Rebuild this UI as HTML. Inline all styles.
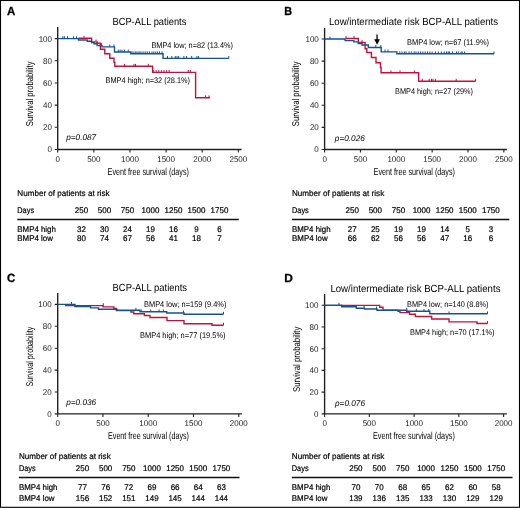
<!DOCTYPE html>
<html><head><meta charset="utf-8"><title>Figure</title>
<style>html,body{margin:0;padding:0;background:#fff;width:520px;height:508px;overflow:hidden}svg{will-change:transform}
svg text{font-family:"Liberation Sans", sans-serif;text-rendering:geometricPrecision}</style></head>
<body>
<svg width="520" height="508" viewBox="0 0 520 508" style="display:block">
<rect x="0" y="0" width="520" height="508" fill="#fff"/>
<g font-family='"Liberation Sans", sans-serif'>
<text x="6.90" y="15.00" font-size="11.80" textLength="8.30" lengthAdjust="spacingAndGlyphs" font-weight="bold" fill="#000" stroke="#000" stroke-width="0.3">A</text>
<text x="112.40" y="25.20" font-size="10.30" textLength="74.00" lengthAdjust="spacingAndGlyphs" fill="#000">BCP-ALL patients</text>
<path d="M57.70 27.00 V149.50 H241.60" fill="none" stroke="#222" stroke-width="1.4"/>
<text x="52.00" y="152.40" font-size="8.30" textLength="4.45" lengthAdjust="spacingAndGlyphs" text-anchor="end" fill="#222">0</text>
<text x="52.00" y="130.22" font-size="8.30" textLength="8.90" lengthAdjust="spacingAndGlyphs" text-anchor="end" fill="#222">20</text>
<text x="52.00" y="108.04" font-size="8.30" textLength="8.90" lengthAdjust="spacingAndGlyphs" text-anchor="end" fill="#222">40</text>
<text x="52.00" y="85.86" font-size="8.30" textLength="8.90" lengthAdjust="spacingAndGlyphs" text-anchor="end" fill="#222">60</text>
<text x="52.00" y="63.68" font-size="8.30" textLength="8.90" lengthAdjust="spacingAndGlyphs" text-anchor="end" fill="#222">80</text>
<text x="52.00" y="41.50" font-size="8.30" textLength="13.35" lengthAdjust="spacingAndGlyphs" text-anchor="end" fill="#222">100</text>
<text x="57.70" y="161.80" font-size="8.30" textLength="4.45" lengthAdjust="spacingAndGlyphs" text-anchor="middle" fill="#222">0</text>
<text x="93.83" y="161.80" font-size="8.30" textLength="13.35" lengthAdjust="spacingAndGlyphs" text-anchor="middle" fill="#222">500</text>
<text x="129.96" y="161.80" font-size="8.30" textLength="17.80" lengthAdjust="spacingAndGlyphs" text-anchor="middle" fill="#222">1000</text>
<text x="166.09" y="161.80" font-size="8.30" textLength="17.80" lengthAdjust="spacingAndGlyphs" text-anchor="middle" fill="#222">1500</text>
<text x="202.22" y="161.80" font-size="8.30" textLength="17.80" lengthAdjust="spacingAndGlyphs" text-anchor="middle" fill="#222">2000</text>
<text x="238.35" y="161.80" font-size="8.30" textLength="17.80" lengthAdjust="spacingAndGlyphs" text-anchor="middle" fill="#222">2500</text>
<path d="M54.70 149.50 H57.70 M54.70 127.32 H57.70 M54.70 105.14 H57.70 M54.70 82.96 H57.70 M54.70 60.78 H57.70 M54.70 38.60 H57.70 M57.70 149.50 V152.50 M93.83 149.50 V152.50 M129.96 149.50 V152.50 M166.09 149.50 V152.50 M202.22 149.50 V152.50 M238.35 149.50 V152.50" fill="none" stroke="#222" stroke-width="1.1"/>
<g transform="translate(32.60 93.85) rotate(-90)">
<text x="0.00" y="0.00" font-size="9.90" textLength="64.70" lengthAdjust="spacingAndGlyphs" text-anchor="middle" fill="#000">Survival probability</text>
</g>
<text x="107.60" y="175.00" font-size="9.90" textLength="81.40" lengthAdjust="spacingAndGlyphs" fill="#000">Event free survival (days)</text>
<text x="66.20" y="139.80" font-size="8.20" textLength="30.00" lengthAdjust="spacingAndGlyphs" font-style="italic" fill="#000">p=0.087</text>
<text x="151.40" y="47.80" font-size="8.20" textLength="81.60" lengthAdjust="spacingAndGlyphs" fill="#000">BMP4 low; n=82 (13.4%)</text>
<text x="105.60" y="83.00" font-size="8.20" textLength="84.40" lengthAdjust="spacingAndGlyphs" fill="#000">BMP4 high; n=32 (28.1%)</text>
<path d="M78.50 38.30 H78.50 V38.30 H91.60 V41.90 H97.20 V43.20 H100.40 V49.20 H104.80 V53.80 H109.80 V58.20 H114.00 V62.40 H114.80 V66.30 H152.60 V72.40 H195.60 V97.80 H210.00" fill="none" stroke="#c6103a" stroke-width="1.4" stroke-linejoin="miter" stroke-linecap="butt"/>
<path d="M73.50 38.60 v-2.4 M84.00 38.30 v-2.4 M96.00 41.90 v-2.4 M124.50 66.30 v-2.4 M134.00 66.30 v-2.4 M135.50 66.30 v-2.4 M148.30 66.30 v-2.4 M153.70 72.40 v-2.4 M156.20 72.40 v-2.4 M158.80 72.40 v-2.4 M161.40 72.40 v-2.4 M164.00 72.40 v-2.4 M166.60 72.40 v-2.4 M169.20 72.40 v-2.4 M188.30 72.40 v-2.4 M190.30 72.40 v-2.4 M205.60 97.80 v-2.4 M209.00 97.80 v-2.4" fill="none" stroke="#c6103a" stroke-width="1.0"/>
<path d="M57.70 38.60 H78.50 V40.00 H87.20 V41.30 H91.60 V42.60 H94.00 V43.80 H97.20 V45.60 H102.00 V46.90 H114.50 V52.00 H130.80 V53.80 H163.00 V58.40 H228.80" fill="none" stroke="#16528f" stroke-width="1.4" stroke-linejoin="miter" stroke-linecap="butt"/>
<path d="M62.90 38.60 v-2.4 M64.40 38.60 v-2.4 M67.50 38.60 v-2.4 M76.60 38.60 v-2.4 M101.60 45.60 v-2.4 M109.80 46.90 v-2.4 M114.00 46.90 v-2.4 M118.25 52.00 v-2.4 M120.10 52.00 v-2.4 M122.00 52.00 v-2.4 M124.50 52.00 v-2.4 M128.25 52.00 v-2.4 M132.00 53.80 v-2.4 M133.90 53.80 v-2.4 M135.75 53.80 v-2.4 M137.00 53.80 v-2.4 M138.90 53.80 v-2.4 M140.10 53.80 v-2.4 M142.00 53.80 v-2.4 M143.90 53.80 v-2.4 M145.75 53.80 v-2.4 M147.60 53.80 v-2.4 M149.50 53.80 v-2.4 M152.00 53.80 v-2.4 M153.90 53.80 v-2.4 M155.75 53.80 v-2.4 M157.60 53.80 v-2.4 M159.50 53.80 v-2.4 M162.00 53.80 v-2.4 M167.50 58.40 v-2.4 M171.80 58.40 v-2.4 M175.30 58.40 v-2.4 M177.00 58.40 v-2.4 M178.70 58.40 v-2.4 M183.90 58.40 v-2.4 M186.50 58.40 v-2.4 M191.70 58.40 v-2.4 M196.90 58.40 v-2.4 M198.60 58.40 v-2.4 M228.80 58.40 v-2.4" fill="none" stroke="#16528f" stroke-width="1.0"/>
<g stroke="#000" stroke-width="0.2">
<text x="17.30" y="195.70" font-size="8.20" textLength="92.20" lengthAdjust="spacingAndGlyphs" fill="#000">Number of patients at risk</text>
<text x="17.30" y="212.80" font-size="8.20" textLength="16.80" lengthAdjust="spacingAndGlyphs" fill="#000">Days</text>
<path d="M17.30 219.50 H238.80" stroke="#111" stroke-width="1.3"/>
<text x="17.30" y="231.70" font-size="8.20" textLength="38.60" lengthAdjust="spacingAndGlyphs" fill="#000">BMP4 high</text>
<text x="17.30" y="240.60" font-size="8.20" textLength="35.70" lengthAdjust="spacingAndGlyphs" fill="#000">BMP4 low</text>
<text x="81.50" y="212.80" font-size="8.20" textLength="13.35" lengthAdjust="spacingAndGlyphs" text-anchor="middle" fill="#000">250</text>
<text x="81.50" y="231.70" font-size="8.20" textLength="8.90" lengthAdjust="spacingAndGlyphs" text-anchor="middle" fill="#000">32</text>
<text x="81.50" y="240.60" font-size="8.20" textLength="8.90" lengthAdjust="spacingAndGlyphs" text-anchor="middle" fill="#000">80</text>
<text x="104.50" y="212.80" font-size="8.20" textLength="13.35" lengthAdjust="spacingAndGlyphs" text-anchor="middle" fill="#000">500</text>
<text x="104.50" y="231.70" font-size="8.20" textLength="8.90" lengthAdjust="spacingAndGlyphs" text-anchor="middle" fill="#000">30</text>
<text x="104.50" y="240.60" font-size="8.20" textLength="8.90" lengthAdjust="spacingAndGlyphs" text-anchor="middle" fill="#000">74</text>
<text x="127.50" y="212.80" font-size="8.20" textLength="13.35" lengthAdjust="spacingAndGlyphs" text-anchor="middle" fill="#000">750</text>
<text x="127.50" y="231.70" font-size="8.20" textLength="8.90" lengthAdjust="spacingAndGlyphs" text-anchor="middle" fill="#000">24</text>
<text x="127.50" y="240.60" font-size="8.20" textLength="8.90" lengthAdjust="spacingAndGlyphs" text-anchor="middle" fill="#000">67</text>
<text x="150.50" y="212.80" font-size="8.20" textLength="17.80" lengthAdjust="spacingAndGlyphs" text-anchor="middle" fill="#000">1000</text>
<text x="150.50" y="231.70" font-size="8.20" textLength="8.90" lengthAdjust="spacingAndGlyphs" text-anchor="middle" fill="#000">19</text>
<text x="150.50" y="240.60" font-size="8.20" textLength="8.90" lengthAdjust="spacingAndGlyphs" text-anchor="middle" fill="#000">56</text>
<text x="173.50" y="212.80" font-size="8.20" textLength="17.80" lengthAdjust="spacingAndGlyphs" text-anchor="middle" fill="#000">1250</text>
<text x="173.50" y="231.70" font-size="8.20" textLength="8.90" lengthAdjust="spacingAndGlyphs" text-anchor="middle" fill="#000">16</text>
<text x="173.50" y="240.60" font-size="8.20" textLength="8.90" lengthAdjust="spacingAndGlyphs" text-anchor="middle" fill="#000">41</text>
<text x="196.50" y="212.80" font-size="8.20" textLength="17.80" lengthAdjust="spacingAndGlyphs" text-anchor="middle" fill="#000">1500</text>
<text x="196.50" y="231.70" font-size="8.20" textLength="4.45" lengthAdjust="spacingAndGlyphs" text-anchor="middle" fill="#000">9</text>
<text x="196.50" y="240.60" font-size="8.20" textLength="8.90" lengthAdjust="spacingAndGlyphs" text-anchor="middle" fill="#000">18</text>
<text x="219.50" y="212.80" font-size="8.20" textLength="17.80" lengthAdjust="spacingAndGlyphs" text-anchor="middle" fill="#000">1750</text>
<text x="219.50" y="231.70" font-size="8.20" textLength="4.45" lengthAdjust="spacingAndGlyphs" text-anchor="middle" fill="#000">6</text>
<text x="219.50" y="240.60" font-size="8.20" textLength="4.45" lengthAdjust="spacingAndGlyphs" text-anchor="middle" fill="#000">7</text>
</g>
<text x="284.20" y="15.00" font-size="11.80" textLength="7.80" lengthAdjust="spacingAndGlyphs" font-weight="bold" fill="#000" stroke="#000" stroke-width="0.3">B</text>
<text x="329.00" y="25.20" font-size="10.30" textLength="169.00" lengthAdjust="spacingAndGlyphs" fill="#000">Low/intermediate risk BCP-ALL patients</text>
<path d="M324.60 28.00 V149.50 H507.00" fill="none" stroke="#222" stroke-width="1.4"/>
<text x="318.80" y="152.40" font-size="8.30" textLength="4.45" lengthAdjust="spacingAndGlyphs" text-anchor="end" fill="#222">0</text>
<text x="318.80" y="130.30" font-size="8.30" textLength="8.90" lengthAdjust="spacingAndGlyphs" text-anchor="end" fill="#222">20</text>
<text x="318.80" y="108.20" font-size="8.30" textLength="8.90" lengthAdjust="spacingAndGlyphs" text-anchor="end" fill="#222">40</text>
<text x="318.80" y="86.10" font-size="8.30" textLength="8.90" lengthAdjust="spacingAndGlyphs" text-anchor="end" fill="#222">60</text>
<text x="318.80" y="64.00" font-size="8.30" textLength="8.90" lengthAdjust="spacingAndGlyphs" text-anchor="end" fill="#222">80</text>
<text x="318.80" y="41.90" font-size="8.30" textLength="13.35" lengthAdjust="spacingAndGlyphs" text-anchor="end" fill="#222">100</text>
<text x="324.60" y="161.90" font-size="8.30" textLength="4.45" lengthAdjust="spacingAndGlyphs" text-anchor="middle" fill="#222">0</text>
<text x="360.45" y="161.90" font-size="8.30" textLength="13.35" lengthAdjust="spacingAndGlyphs" text-anchor="middle" fill="#222">500</text>
<text x="396.30" y="161.90" font-size="8.30" textLength="17.80" lengthAdjust="spacingAndGlyphs" text-anchor="middle" fill="#222">1000</text>
<text x="432.15" y="161.90" font-size="8.30" textLength="17.80" lengthAdjust="spacingAndGlyphs" text-anchor="middle" fill="#222">1500</text>
<text x="468.00" y="161.90" font-size="8.30" textLength="17.80" lengthAdjust="spacingAndGlyphs" text-anchor="middle" fill="#222">2000</text>
<text x="503.85" y="161.90" font-size="8.30" textLength="17.80" lengthAdjust="spacingAndGlyphs" text-anchor="middle" fill="#222">2500</text>
<path d="M321.60 149.50 H324.60 M321.60 127.40 H324.60 M321.60 105.30 H324.60 M321.60 83.20 H324.60 M321.60 61.10 H324.60 M321.60 39.00 H324.60 M324.60 149.50 V152.50 M360.45 149.50 V152.50 M396.30 149.50 V152.50 M432.15 149.50 V152.50 M468.00 149.50 V152.50 M503.85 149.50 V152.50" fill="none" stroke="#222" stroke-width="1.1"/>
<g transform="translate(299.20 93.85) rotate(-90)">
<text x="0.00" y="0.00" font-size="9.90" textLength="64.70" lengthAdjust="spacingAndGlyphs" text-anchor="middle" fill="#000">Survival probability</text>
</g>
<text x="373.60" y="175.00" font-size="9.90" textLength="81.40" lengthAdjust="spacingAndGlyphs" fill="#000">Event free survival (days)</text>
<text x="334.80" y="140.60" font-size="8.20" textLength="30.00" lengthAdjust="spacingAndGlyphs" font-style="italic" fill="#000">p=0.026</text>
<text x="407.00" y="44.60" font-size="8.20" textLength="82.00" lengthAdjust="spacingAndGlyphs" fill="#000">BMP4 low; n=67 (11.9%)</text>
<text x="395.00" y="93.60" font-size="8.20" textLength="78.00" lengthAdjust="spacingAndGlyphs" fill="#000">BMP4 high; n=27 (29%)</text>
<path d="M345.75 38.50 H358.30 V42.50 H365.10 V48.80 H366.80 V52.50 H371.40 V57.50 H376.00 V62.80 H380.50 V67.50 H381.10 V72.80 H418.60 V81.20 H475.60" fill="none" stroke="#c6103a" stroke-width="1.4" stroke-linejoin="miter" stroke-linecap="butt"/>
<path d="M346.00 38.50 v-2.4 M354.00 38.50 v-2.4 M362.00 42.50 v-2.4 M391.00 72.80 v-2.4 M400.00 72.80 v-2.4 M414.60 72.80 v-2.4 M422.30 81.20 v-2.4 M429.20 81.20 v-2.4 M431.50 81.20 v-2.4 M433.00 81.20 v-2.4 M435.40 81.20 v-2.4 M456.20 81.20 v-2.4 M475.60 81.20 v-2.4" fill="none" stroke="#c6103a" stroke-width="1.0"/>
<path d="M324.60 39.00 H345.10 V40.60 H353.90 V41.90 H358.30 V43.50 H362.00 V45.00 H368.30 V47.50 H381.20 V51.90 H396.80 V53.80 H494.00" fill="none" stroke="#16528f" stroke-width="1.4" stroke-linejoin="miter" stroke-linecap="butt"/>
<path d="M330.00 39.00 v-2.4 M375.80 47.50 v-2.4 M380.80 47.50 v-2.4 M385.00 51.90 v-2.4 M388.00 51.90 v-2.4 M399.80 53.80 v-2.4 M402.10 53.80 v-2.4 M404.40 53.80 v-2.4 M406.10 53.80 v-2.4 M409.00 53.80 v-2.4 M411.30 53.80 v-2.4 M414.20 53.80 v-2.4 M416.00 53.80 v-2.4 M418.30 53.80 v-2.4 M420.60 53.80 v-2.4 M422.90 53.80 v-2.4 M425.20 53.80 v-2.4 M427.50 53.80 v-2.4 M429.80 53.80 v-2.4 M432.10 53.80 v-2.4 M435.60 53.80 v-2.4 M438.40 53.80 v-2.4 M441.30 53.80 v-2.4 M444.20 53.80 v-2.4 M446.50 53.80 v-2.4 M448.20 53.80 v-2.4 M449.60 53.80 v-2.4 M452.50 53.80 v-2.4 M456.50 53.80 v-2.4 M458.30 53.80 v-2.4 M461.10 53.80 v-2.4 M462.30 53.80 v-2.4 M464.60 53.80 v-2.4 M494.00 53.80 v-2.4" fill="none" stroke="#16528f" stroke-width="1.0"/>
<g stroke="#000" stroke-width="0.2">
<text x="292.00" y="195.70" font-size="8.20" textLength="92.20" lengthAdjust="spacingAndGlyphs" fill="#000">Number of patients at risk</text>
<text x="292.00" y="212.80" font-size="8.20" textLength="16.80" lengthAdjust="spacingAndGlyphs" fill="#000">Days</text>
<path d="M292.00 219.50 H509.30" stroke="#111" stroke-width="1.3"/>
<text x="292.00" y="231.70" font-size="8.20" textLength="38.60" lengthAdjust="spacingAndGlyphs" fill="#000">BMP4 high</text>
<text x="292.00" y="240.60" font-size="8.20" textLength="35.70" lengthAdjust="spacingAndGlyphs" fill="#000">BMP4 low</text>
<text x="352.25" y="212.80" font-size="8.20" textLength="13.35" lengthAdjust="spacingAndGlyphs" text-anchor="middle" fill="#000">250</text>
<text x="352.25" y="231.70" font-size="8.20" textLength="8.90" lengthAdjust="spacingAndGlyphs" text-anchor="middle" fill="#000">27</text>
<text x="352.25" y="240.60" font-size="8.20" textLength="8.90" lengthAdjust="spacingAndGlyphs" text-anchor="middle" fill="#000">66</text>
<text x="375.35" y="212.80" font-size="8.20" textLength="13.35" lengthAdjust="spacingAndGlyphs" text-anchor="middle" fill="#000">500</text>
<text x="375.35" y="231.70" font-size="8.20" textLength="8.90" lengthAdjust="spacingAndGlyphs" text-anchor="middle" fill="#000">25</text>
<text x="375.35" y="240.60" font-size="8.20" textLength="8.90" lengthAdjust="spacingAndGlyphs" text-anchor="middle" fill="#000">62</text>
<text x="398.45" y="212.80" font-size="8.20" textLength="13.35" lengthAdjust="spacingAndGlyphs" text-anchor="middle" fill="#000">750</text>
<text x="398.45" y="231.70" font-size="8.20" textLength="8.90" lengthAdjust="spacingAndGlyphs" text-anchor="middle" fill="#000">19</text>
<text x="398.45" y="240.60" font-size="8.20" textLength="8.90" lengthAdjust="spacingAndGlyphs" text-anchor="middle" fill="#000">56</text>
<text x="421.55" y="212.80" font-size="8.20" textLength="17.80" lengthAdjust="spacingAndGlyphs" text-anchor="middle" fill="#000">1000</text>
<text x="421.55" y="231.70" font-size="8.20" textLength="8.90" lengthAdjust="spacingAndGlyphs" text-anchor="middle" fill="#000">19</text>
<text x="421.55" y="240.60" font-size="8.20" textLength="8.90" lengthAdjust="spacingAndGlyphs" text-anchor="middle" fill="#000">56</text>
<text x="444.65" y="212.80" font-size="8.20" textLength="17.80" lengthAdjust="spacingAndGlyphs" text-anchor="middle" fill="#000">1250</text>
<text x="444.65" y="231.70" font-size="8.20" textLength="8.90" lengthAdjust="spacingAndGlyphs" text-anchor="middle" fill="#000">14</text>
<text x="444.65" y="240.60" font-size="8.20" textLength="8.90" lengthAdjust="spacingAndGlyphs" text-anchor="middle" fill="#000">47</text>
<text x="467.75" y="212.80" font-size="8.20" textLength="17.80" lengthAdjust="spacingAndGlyphs" text-anchor="middle" fill="#000">1500</text>
<text x="467.75" y="231.70" font-size="8.20" textLength="4.45" lengthAdjust="spacingAndGlyphs" text-anchor="middle" fill="#000">5</text>
<text x="467.75" y="240.60" font-size="8.20" textLength="8.90" lengthAdjust="spacingAndGlyphs" text-anchor="middle" fill="#000">16</text>
<text x="490.85" y="212.80" font-size="8.20" textLength="17.80" lengthAdjust="spacingAndGlyphs" text-anchor="middle" fill="#000">1750</text>
<text x="490.85" y="231.70" font-size="8.20" textLength="4.45" lengthAdjust="spacingAndGlyphs" text-anchor="middle" fill="#000">3</text>
<text x="490.85" y="240.60" font-size="8.20" textLength="4.45" lengthAdjust="spacingAndGlyphs" text-anchor="middle" fill="#000">6</text>
</g>
<path d="M377.05 34.6 V40.5" stroke="#000" stroke-width="1.3"/><path d="M374.2 39.2 L379.9 39.2 L377.05 44.8 Z" fill="#000"/>
<text x="6.90" y="281.80" font-size="11.80" textLength="8.30" lengthAdjust="spacingAndGlyphs" font-weight="bold" fill="#000" stroke="#000" stroke-width="0.3">C</text>
<text x="112.60" y="291.20" font-size="10.30" textLength="74.40" lengthAdjust="spacingAndGlyphs" fill="#000">BCP-ALL patients</text>
<path d="M57.70 293.00 V413.90 H241.90" fill="none" stroke="#222" stroke-width="1.4"/>
<text x="51.60" y="416.80" font-size="8.30" textLength="4.45" lengthAdjust="spacingAndGlyphs" text-anchor="end" fill="#222">0</text>
<text x="51.60" y="394.90" font-size="8.30" textLength="8.90" lengthAdjust="spacingAndGlyphs" text-anchor="end" fill="#222">20</text>
<text x="51.60" y="373.00" font-size="8.30" textLength="8.90" lengthAdjust="spacingAndGlyphs" text-anchor="end" fill="#222">40</text>
<text x="51.60" y="351.10" font-size="8.30" textLength="8.90" lengthAdjust="spacingAndGlyphs" text-anchor="end" fill="#222">60</text>
<text x="51.60" y="329.20" font-size="8.30" textLength="8.90" lengthAdjust="spacingAndGlyphs" text-anchor="end" fill="#222">80</text>
<text x="51.60" y="307.30" font-size="8.30" textLength="13.35" lengthAdjust="spacingAndGlyphs" text-anchor="end" fill="#222">100</text>
<text x="57.70" y="426.20" font-size="8.30" textLength="4.45" lengthAdjust="spacingAndGlyphs" text-anchor="middle" fill="#222">0</text>
<text x="102.96" y="426.20" font-size="8.30" textLength="13.35" lengthAdjust="spacingAndGlyphs" text-anchor="middle" fill="#222">500</text>
<text x="148.22" y="426.20" font-size="8.30" textLength="17.80" lengthAdjust="spacingAndGlyphs" text-anchor="middle" fill="#222">1000</text>
<text x="193.48" y="426.20" font-size="8.30" textLength="17.80" lengthAdjust="spacingAndGlyphs" text-anchor="middle" fill="#222">1500</text>
<text x="238.74" y="426.20" font-size="8.30" textLength="17.80" lengthAdjust="spacingAndGlyphs" text-anchor="middle" fill="#222">2000</text>
<path d="M54.70 413.90 H57.70 M54.70 392.00 H57.70 M54.70 370.10 H57.70 M54.70 348.20 H57.70 M54.70 326.30 H57.70 M54.70 304.40 H57.70 M57.70 413.90 V416.90 M102.96 413.90 V416.90 M148.22 413.90 V416.90 M193.48 413.90 V416.90 M238.74 413.90 V416.90" fill="none" stroke="#222" stroke-width="1.1"/>
<g transform="translate(33.00 356.60) rotate(-90)">
<text x="0.00" y="0.00" font-size="9.90" textLength="60.00" lengthAdjust="spacingAndGlyphs" text-anchor="middle" fill="#000">Survival probability</text>
</g>
<text x="108.00" y="439.00" font-size="9.90" textLength="81.00" lengthAdjust="spacingAndGlyphs" fill="#000">Event free survival (days)</text>
<text x="66.20" y="404.90" font-size="8.20" textLength="30.00" lengthAdjust="spacingAndGlyphs" font-style="italic" fill="#000">p=0.036</text>
<text x="144.00" y="306.70" font-size="8.20" textLength="82.40" lengthAdjust="spacingAndGlyphs" fill="#000">BMP4 low; n=159 (9.4%)</text>
<text x="140.00" y="337.90" font-size="8.20" textLength="85.50" lengthAdjust="spacingAndGlyphs" fill="#000">BMP4 high; n=77 (19.5%)</text>
<path d="M65.00 305.60 H103.00 V306.90 H113.80 V308.50 H116.30 V310.60 H131.00 V312.00 H133.80 V313.80 H144.40 V315.50 H150.00 V317.50 H167.00 V320.60 H184.00 V323.80 H212.00 V325.20 H223.50" fill="none" stroke="#c6103a" stroke-width="1.4" stroke-linejoin="miter" stroke-linecap="butt"/>
<path d="M103.30 305.60 v-2.4 M223.50 325.20 v-2.4" fill="none" stroke="#c6103a" stroke-width="1.0"/>
<path d="M57.70 304.40 H75.00 V306.60 H90.50 V307.90 H98.50 V309.20 H117.00 V310.20 H140.00 V311.80 H166.70 V313.00 H184.00 V314.20 H223.50" fill="none" stroke="#16528f" stroke-width="1.4" stroke-linejoin="miter" stroke-linecap="butt"/>
<path d="M71.50 304.40 v-2.4 M74.50 306.60 v-2.4 M135.90 310.20 v-2.4 M141.20 311.80 v-2.4 M150.70 311.80 v-2.4 M159.10 311.80 v-2.4 M163.40 311.80 v-2.4 M183.50 313.00 v-2.4 M223.50 314.20 v-2.4" fill="none" stroke="#16528f" stroke-width="1.0"/>
<g stroke="#000" stroke-width="0.2">
<text x="18.90" y="459.20" font-size="8.20" textLength="91.80" lengthAdjust="spacingAndGlyphs" fill="#000">Number of patients at risk</text>
<text x="18.90" y="471.20" font-size="8.20" textLength="16.80" lengthAdjust="spacingAndGlyphs" fill="#000">Days</text>
<path d="M18.90 477.50 H239.50" stroke="#111" stroke-width="1.3"/>
<text x="18.90" y="490.00" font-size="8.20" textLength="38.60" lengthAdjust="spacingAndGlyphs" fill="#000">BMP4 high</text>
<text x="18.90" y="500.80" font-size="8.20" textLength="35.70" lengthAdjust="spacingAndGlyphs" fill="#000">BMP4 low</text>
<text x="82.50" y="471.20" font-size="8.20" textLength="13.35" lengthAdjust="spacingAndGlyphs" text-anchor="middle" fill="#000">250</text>
<text x="82.50" y="490.00" font-size="8.20" textLength="8.90" lengthAdjust="spacingAndGlyphs" text-anchor="middle" fill="#000">77</text>
<text x="82.50" y="500.80" font-size="8.20" textLength="13.35" lengthAdjust="spacingAndGlyphs" text-anchor="middle" fill="#000">156</text>
<text x="105.65" y="471.20" font-size="8.20" textLength="13.35" lengthAdjust="spacingAndGlyphs" text-anchor="middle" fill="#000">500</text>
<text x="105.65" y="490.00" font-size="8.20" textLength="8.90" lengthAdjust="spacingAndGlyphs" text-anchor="middle" fill="#000">76</text>
<text x="105.65" y="500.80" font-size="8.20" textLength="13.35" lengthAdjust="spacingAndGlyphs" text-anchor="middle" fill="#000">152</text>
<text x="128.80" y="471.20" font-size="8.20" textLength="13.35" lengthAdjust="spacingAndGlyphs" text-anchor="middle" fill="#000">750</text>
<text x="128.80" y="490.00" font-size="8.20" textLength="8.90" lengthAdjust="spacingAndGlyphs" text-anchor="middle" fill="#000">72</text>
<text x="128.80" y="500.80" font-size="8.20" textLength="13.35" lengthAdjust="spacingAndGlyphs" text-anchor="middle" fill="#000">151</text>
<text x="151.95" y="471.20" font-size="8.20" textLength="17.80" lengthAdjust="spacingAndGlyphs" text-anchor="middle" fill="#000">1000</text>
<text x="151.95" y="490.00" font-size="8.20" textLength="8.90" lengthAdjust="spacingAndGlyphs" text-anchor="middle" fill="#000">69</text>
<text x="151.95" y="500.80" font-size="8.20" textLength="13.35" lengthAdjust="spacingAndGlyphs" text-anchor="middle" fill="#000">149</text>
<text x="175.10" y="471.20" font-size="8.20" textLength="17.80" lengthAdjust="spacingAndGlyphs" text-anchor="middle" fill="#000">1250</text>
<text x="175.10" y="490.00" font-size="8.20" textLength="8.90" lengthAdjust="spacingAndGlyphs" text-anchor="middle" fill="#000">66</text>
<text x="175.10" y="500.80" font-size="8.20" textLength="13.35" lengthAdjust="spacingAndGlyphs" text-anchor="middle" fill="#000">145</text>
<text x="198.25" y="471.20" font-size="8.20" textLength="17.80" lengthAdjust="spacingAndGlyphs" text-anchor="middle" fill="#000">1500</text>
<text x="198.25" y="490.00" font-size="8.20" textLength="8.90" lengthAdjust="spacingAndGlyphs" text-anchor="middle" fill="#000">64</text>
<text x="198.25" y="500.80" font-size="8.20" textLength="13.35" lengthAdjust="spacingAndGlyphs" text-anchor="middle" fill="#000">144</text>
<text x="221.40" y="471.20" font-size="8.20" textLength="17.80" lengthAdjust="spacingAndGlyphs" text-anchor="middle" fill="#000">1750</text>
<text x="221.40" y="490.00" font-size="8.20" textLength="8.90" lengthAdjust="spacingAndGlyphs" text-anchor="middle" fill="#000">63</text>
<text x="221.40" y="500.80" font-size="8.20" textLength="13.35" lengthAdjust="spacingAndGlyphs" text-anchor="middle" fill="#000">144</text>
</g>
<text x="284.30" y="281.80" font-size="11.80" textLength="8.60" lengthAdjust="spacingAndGlyphs" font-weight="bold" fill="#000" stroke="#000" stroke-width="0.3">D</text>
<text x="330.40" y="292.00" font-size="10.30" textLength="170.10" lengthAdjust="spacingAndGlyphs" fill="#000">Low/intermediate risk BCP-ALL patients</text>
<path d="M324.60 294.00 V413.90 H506.80" fill="none" stroke="#222" stroke-width="1.4"/>
<text x="318.40" y="416.80" font-size="8.30" textLength="4.45" lengthAdjust="spacingAndGlyphs" text-anchor="end" fill="#222">0</text>
<text x="318.40" y="395.06" font-size="8.30" textLength="8.90" lengthAdjust="spacingAndGlyphs" text-anchor="end" fill="#222">20</text>
<text x="318.40" y="373.32" font-size="8.30" textLength="8.90" lengthAdjust="spacingAndGlyphs" text-anchor="end" fill="#222">40</text>
<text x="318.40" y="351.58" font-size="8.30" textLength="8.90" lengthAdjust="spacingAndGlyphs" text-anchor="end" fill="#222">60</text>
<text x="318.40" y="329.84" font-size="8.30" textLength="8.90" lengthAdjust="spacingAndGlyphs" text-anchor="end" fill="#222">80</text>
<text x="318.40" y="308.10" font-size="8.30" textLength="13.35" lengthAdjust="spacingAndGlyphs" text-anchor="end" fill="#222">100</text>
<text x="324.60" y="426.30" font-size="8.30" textLength="4.45" lengthAdjust="spacingAndGlyphs" text-anchor="middle" fill="#222">0</text>
<text x="369.35" y="426.30" font-size="8.30" textLength="13.35" lengthAdjust="spacingAndGlyphs" text-anchor="middle" fill="#222">500</text>
<text x="414.10" y="426.30" font-size="8.30" textLength="17.80" lengthAdjust="spacingAndGlyphs" text-anchor="middle" fill="#222">1000</text>
<text x="458.85" y="426.30" font-size="8.30" textLength="17.80" lengthAdjust="spacingAndGlyphs" text-anchor="middle" fill="#222">1500</text>
<text x="503.60" y="426.30" font-size="8.30" textLength="17.80" lengthAdjust="spacingAndGlyphs" text-anchor="middle" fill="#222">2000</text>
<path d="M321.60 413.90 H324.60 M321.60 392.16 H324.60 M321.60 370.42 H324.60 M321.60 348.68 H324.60 M321.60 326.94 H324.60 M321.60 305.20 H324.60 M324.60 413.90 V416.90 M369.35 413.90 V416.90 M414.10 413.90 V416.90 M458.85 413.90 V416.90 M503.60 413.90 V416.90" fill="none" stroke="#222" stroke-width="1.1"/>
<g transform="translate(299.60 359.30) rotate(-90)">
<text x="0.00" y="0.00" font-size="9.90" textLength="65.40" lengthAdjust="spacingAndGlyphs" text-anchor="middle" fill="#000">Survival probability</text>
</g>
<text x="373.00" y="439.00" font-size="9.90" textLength="81.80" lengthAdjust="spacingAndGlyphs" fill="#000">Event free survival (days)</text>
<text x="335.00" y="405.80" font-size="8.20" textLength="30.00" lengthAdjust="spacingAndGlyphs" font-style="italic" fill="#000">p=0.076</text>
<text x="407.00" y="306.70" font-size="8.20" textLength="81.50" lengthAdjust="spacingAndGlyphs" fill="#000">BMP4 low; n=140 (8.8%)</text>
<text x="410.00" y="334.60" font-size="8.20" textLength="84.50" lengthAdjust="spacingAndGlyphs" fill="#000">BMP4 high; n=70 (17.1%)</text>
<path d="M341.00 305.40 H379.70 V307.30 H383.00 V310.20 H398.00 V311.40 H400.00 V312.60 H409.60 V314.20 H415.40 V316.50 H431.70 V319.00 H449.00 V321.90 H477.00 V323.50 H487.50" fill="none" stroke="#c6103a" stroke-width="1.4" stroke-linejoin="miter" stroke-linecap="butt"/>
<path d="M487.50 323.50 v-2.4" fill="none" stroke="#c6103a" stroke-width="1.0"/>
<path d="M324.60 305.20 H341.60 V306.80 H356.30 V308.20 H364.50 V309.00 H377.00 V310.20 H406.70 V311.30 H429.80 V313.80 H487.50" fill="none" stroke="#16528f" stroke-width="1.4" stroke-linejoin="miter" stroke-linecap="butt"/>
<path d="M339.00 305.20 v-2.4 M364.00 308.20 v-2.4 M376.50 309.00 v-2.4 M406.70 310.20 v-2.4 M416.30 311.30 v-2.4 M424.00 311.30 v-2.4 M428.80 311.30 v-2.4 M449.00 313.80 v-2.4 M487.50 313.80 v-2.4" fill="none" stroke="#16528f" stroke-width="1.0"/>
<g stroke="#000" stroke-width="0.2">
<text x="291.80" y="459.20" font-size="8.20" textLength="92.50" lengthAdjust="spacingAndGlyphs" fill="#000">Number of patients at risk</text>
<text x="291.80" y="471.20" font-size="8.20" textLength="16.80" lengthAdjust="spacingAndGlyphs" fill="#000">Days</text>
<path d="M291.80 477.50 H512.50" stroke="#111" stroke-width="1.3"/>
<text x="291.80" y="490.00" font-size="8.20" textLength="38.60" lengthAdjust="spacingAndGlyphs" fill="#000">BMP4 high</text>
<text x="291.80" y="500.80" font-size="8.20" textLength="35.70" lengthAdjust="spacingAndGlyphs" fill="#000">BMP4 low</text>
<text x="355.90" y="471.20" font-size="8.20" textLength="13.35" lengthAdjust="spacingAndGlyphs" text-anchor="middle" fill="#000">250</text>
<text x="355.90" y="490.00" font-size="8.20" textLength="8.90" lengthAdjust="spacingAndGlyphs" text-anchor="middle" fill="#000">70</text>
<text x="355.90" y="500.80" font-size="8.20" textLength="13.35" lengthAdjust="spacingAndGlyphs" text-anchor="middle" fill="#000">139</text>
<text x="379.29" y="471.20" font-size="8.20" textLength="13.35" lengthAdjust="spacingAndGlyphs" text-anchor="middle" fill="#000">500</text>
<text x="379.29" y="490.00" font-size="8.20" textLength="8.90" lengthAdjust="spacingAndGlyphs" text-anchor="middle" fill="#000">70</text>
<text x="379.29" y="500.80" font-size="8.20" textLength="13.35" lengthAdjust="spacingAndGlyphs" text-anchor="middle" fill="#000">136</text>
<text x="402.68" y="471.20" font-size="8.20" textLength="13.35" lengthAdjust="spacingAndGlyphs" text-anchor="middle" fill="#000">750</text>
<text x="402.68" y="490.00" font-size="8.20" textLength="8.90" lengthAdjust="spacingAndGlyphs" text-anchor="middle" fill="#000">68</text>
<text x="402.68" y="500.80" font-size="8.20" textLength="13.35" lengthAdjust="spacingAndGlyphs" text-anchor="middle" fill="#000">135</text>
<text x="426.07" y="471.20" font-size="8.20" textLength="17.80" lengthAdjust="spacingAndGlyphs" text-anchor="middle" fill="#000">1000</text>
<text x="426.07" y="490.00" font-size="8.20" textLength="8.90" lengthAdjust="spacingAndGlyphs" text-anchor="middle" fill="#000">65</text>
<text x="426.07" y="500.80" font-size="8.20" textLength="13.35" lengthAdjust="spacingAndGlyphs" text-anchor="middle" fill="#000">133</text>
<text x="449.46" y="471.20" font-size="8.20" textLength="17.80" lengthAdjust="spacingAndGlyphs" text-anchor="middle" fill="#000">1250</text>
<text x="449.46" y="490.00" font-size="8.20" textLength="8.90" lengthAdjust="spacingAndGlyphs" text-anchor="middle" fill="#000">62</text>
<text x="449.46" y="500.80" font-size="8.20" textLength="13.35" lengthAdjust="spacingAndGlyphs" text-anchor="middle" fill="#000">130</text>
<text x="472.85" y="471.20" font-size="8.20" textLength="17.80" lengthAdjust="spacingAndGlyphs" text-anchor="middle" fill="#000">1500</text>
<text x="472.85" y="490.00" font-size="8.20" textLength="8.90" lengthAdjust="spacingAndGlyphs" text-anchor="middle" fill="#000">60</text>
<text x="472.85" y="500.80" font-size="8.20" textLength="13.35" lengthAdjust="spacingAndGlyphs" text-anchor="middle" fill="#000">129</text>
<text x="496.24" y="471.20" font-size="8.20" textLength="17.80" lengthAdjust="spacingAndGlyphs" text-anchor="middle" fill="#000">1750</text>
<text x="496.24" y="490.00" font-size="8.20" textLength="8.90" lengthAdjust="spacingAndGlyphs" text-anchor="middle" fill="#000">58</text>
<text x="496.24" y="500.80" font-size="8.20" textLength="13.35" lengthAdjust="spacingAndGlyphs" text-anchor="middle" fill="#000">129</text>
</g>
</g>
<rect x="0.5" y="0.5" width="519" height="506.8" fill="none" stroke="#000" stroke-width="1.1"/>
</svg>
</body></html>
